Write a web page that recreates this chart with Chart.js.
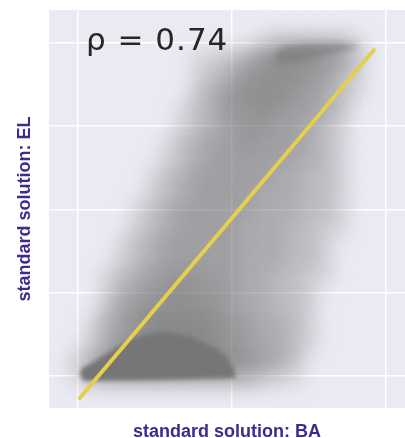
<!DOCTYPE html>
<html>
<head>
<meta charset="utf-8">
<script src="https://cdn.jsdelivr.net/npm/chart.js@4.4.1/dist/chart.umd.min.js"></script>
<style>
  html, body { margin: 0; padding: 0; background: #fff; overflow: hidden; }
  canvas { display: block; }
</style>
</head>
<body>
<canvas id="rhoChart" width="405" height="438"></canvas>
<script>
// axis ranges and grid positions (no tick labels in the figure)
const xMin = -0.094, xMax = 1.062;
const yMin = -0.096, yMax = 1.099;
const xGrid = [0, 0.5, 1];
const yGrid = [0, 0.25, 0.5, 0.75, 1];

// density of the point cloud (0 = empty, 9 = solid)
const cellX = [0, 0.05, 0.1, 0.15, 0.2, 0.25, 0.3, 0.35, 0.4, 0.45, 0.5, 0.55, 0.6, 0.65, 0.7, 0.75, 0.8, 0.85, 0.9, 0.95, 1];
const cellY = [1, 0.95, 0.9, 0.85, 0.8, 0.75, 0.7, 0.65, 0.6, 0.55, 0.5, 0.45, 0.4, 0.35, 0.3, 0.25, 0.2, 0.15, 0.1, 0.05, 0];
const density = [
  [0,0,0,0,0,0,0,0,0,0,0,0,1,2,2,2,2,2,1,0,0],
  [0,0,0,0,0,0,0,0,1,1,2,3,5,6,6,6,5,4,2,0,0],
  [0,0,0,0,0,0,0,0,1,2,3,5,6,6,6,5,4,2,1,0,0],
  [0,0,0,0,0,0,0,0,2,3,5,6,6,6,5,4,3,2,1,0,0],
  [0,0,0,0,0,0,0,1,2,3,5,5,6,5,4,4,3,2,0,0,0],
  [0,0,0,0,0,0,0,1,2,3,4,5,5,4,4,3,2,1,0,0,0],
  [0,0,0,0,0,0,1,2,3,4,4,5,4,4,4,3,2,1,0,0,0],
  [0,0,0,0,0,0,1,2,3,4,4,4,4,4,3,3,2,1,0,0,0],
  [0,0,0,0,0,1,2,3,4,4,4,4,4,3,3,2,2,1,0,0,0],
  [0,0,0,0,0,1,2,3,4,4,4,4,3,3,3,2,2,1,0,0,0],
  [0,0,0,0,1,2,3,4,4,4,4,4,3,3,3,2,2,1,0,0,0],
  [0,0,0,0,1,2,3,4,4,4,4,3,3,3,2,2,1,1,0,0,0],
  [0,0,0,1,2,3,4,4,4,4,4,3,3,3,2,2,1,0,0,0,0],
  [0,0,0,1,2,3,4,4,4,4,4,3,3,3,2,2,1,0,0,0,0],
  [0,0,1,2,3,4,5,5,5,4,4,3,3,2,2,1,1,0,0,0,0],
  [0,0,1,3,4,5,6,6,5,5,4,3,3,2,2,1,0,0,0,0,0],
  [0,0,2,4,5,6,6,6,6,5,4,3,3,2,2,1,0,0,0,0,0],
  [0,1,3,4,6,7,7,7,7,6,5,4,3,3,2,1,0,0,0,0,0],
  [0,1,3,5,6,7,7,7,7,6,5,4,3,3,2,1,0,0,0,0,0],
  [1,3,5,6,7,7,7,7,7,7,6,5,4,3,2,0,0,0,0,0,0],
  [1,2,3,3,3,3,3,3,3,3,3,3,2,1,1,0,0,0,0,0,0]
];

// the two saturated clumps (outline of the solid grey areas)
const lowClumpX = [0.013, 0.039, 0.071, 0.123, 0.169, 0.208, 0.286, 0.370, 0.435, 0.481, 0.506, 0.513, 0.266, 0.019, 0.006];
const lowClumpY = [0.024, 0.036, 0.054, 0.084, 0.108, 0.123, 0.132, 0.117, 0.090, 0.060, 0.024, -0.006, -0.012, -0.015, 0.003];
const highClumpX = [0.630, 0.662, 0.721, 0.851, 0.916, 0.883, 0.818, 0.721, 0.656];
const highClumpY = [0.955, 0.988, 0.997, 1.000, 0.994, 0.979, 0.964, 0.943, 0.937];

// fitted line
const fitX = [0.006, 0.961];
const fitY = [-0.066, 0.979];

const rhoLabel = 'ρ = 0.74';
const titleColor = '#402a8f';
const grey = '118, 118, 118';

const cloudPoints = [];
cellY.forEach((y, r) => {
  cellX.forEach((x, c) => {
    if (density[r][c] > 0) cloudPoints.push({ x, y, v: density[r][c] });
  });
});

const toXY = (xs, ys) => xs.map((x, i) => ({ x, y: ys[i] }));

const plotBackground = {
  id: 'plotBackground',
  beforeDraw(chart) {
    const { ctx, chartArea: a } = chart;
    ctx.save();
    ctx.fillStyle = '#eaeaf2';
    ctx.fillRect(a.left, a.top, a.right - a.left, a.bottom - a.top);
    ctx.restore();
  }
};

// blur the cloud a lot and the clumps a little; the fit line stays sharp
const softEdges = {
  id: 'softEdges',
  beforeDatasetDraw(chart, args) {
    if (args.index === 3) chart.ctx.filter = 'blur(9px)';
  },
  afterDatasetDraw(chart, args) {
    if (args.index === 3) chart.ctx.filter = 'blur(2px)';
    if (args.index === 2) chart.ctx.filter = 'blur(3px)';
    if (args.index === 1) chart.ctx.filter = 'none';
  }
};

const rhoText = {
  id: 'rhoText',
  afterDraw(chart) {
    const { ctx, scales } = chart;
    ctx.save();
    ctx.filter = 'none';
    ctx.font = '31px "DejaVu Sans"';
    if ('letterSpacing' in ctx) ctx.letterSpacing = '1px';
    ctx.fillStyle = '#262626';
    ctx.textBaseline = 'alphabetic';
    ctx.fillText(rhoLabel, scales.x.getPixelForValue(0.026), scales.y.getPixelForValue(0.979));
    ctx.restore();
  }
};

const titleFont = { family: "'Liberation Sans', Arial, sans-serif", size: 18, weight: 'bold', lineHeight: 0.7 };

new Chart(document.getElementById('rhoChart'), {
  type: 'scatter',
  data: {
    datasets: [
      {
        type: 'line',
        data: toXY(fitX, fitY),
        borderColor: '#e6cf4c',
        borderWidth: 4,
        borderCapStyle: 'round',
        pointRadius: 0,
        fill: false
      },
      {
        type: 'line',
        data: toXY(highClumpX, highClumpY),
        backgroundColor: `rgba(${grey}, 0.6)`,
        borderWidth: 0,
        pointRadius: 0,
        fill: 'shape'
      },
      {
        type: 'line',
        data: toXY(lowClumpX, lowClumpY),
        backgroundColor: `rgba(${grey}, 1)`,
        borderWidth: 0,
        pointRadius: 0,
        fill: 'shape'
      },
      {
        data: cloudPoints,
        pointRadius: 12,
        pointBorderWidth: 0,
        pointBackgroundColor: c => {
          const v = c.raw ? c.raw.v : 0;
          return `rgba(${grey}, ${(1 - Math.pow(1 - v / 10, 1.3)).toFixed(3)})`;
        }
      }
    ]
  },
  options: {
    responsive: false,
    animation: false,
    events: [],
    // no extra room for point overflow: the plot runs to the figure's right edge
    layout: { autoPadding: false, padding: { left: 8, top: 10, right: 0, bottom: 0 } },
    plugins: {
      legend: { display: false },
      tooltip: { enabled: false }
    },
    scales: {
      x: {
        type: 'linear',
        min: xMin,
        max: xMax,
        afterBuildTicks: axis => { axis.ticks = xGrid.map(v => ({ value: v })); },
        ticks: { display: false },
        grid: { color: '#ffffff', lineWidth: 1.5, drawTicks: false },
        border: { display: false },
        title: { display: true, text: 'standard solution: BA', color: titleColor, font: titleFont, padding: { top: 17.4, bottom: 0 } }
      },
      y: {
        type: 'linear',
        min: yMin,
        max: yMax,
        afterBuildTicks: axis => { axis.ticks = yGrid.map(v => ({ value: v })); },
        ticks: { display: false },
        grid: { color: '#ffffff', lineWidth: 1.5, drawTicks: false },
        border: { display: false },
        title: { display: true, text: 'standard solution: EL', color: titleColor, font: titleFont, padding: { top: 10.3, bottom: 18.1 } }
      }
    }
  },
  plugins: [plotBackground, softEdges, rhoText]
});
</script>
</body>
</html>
